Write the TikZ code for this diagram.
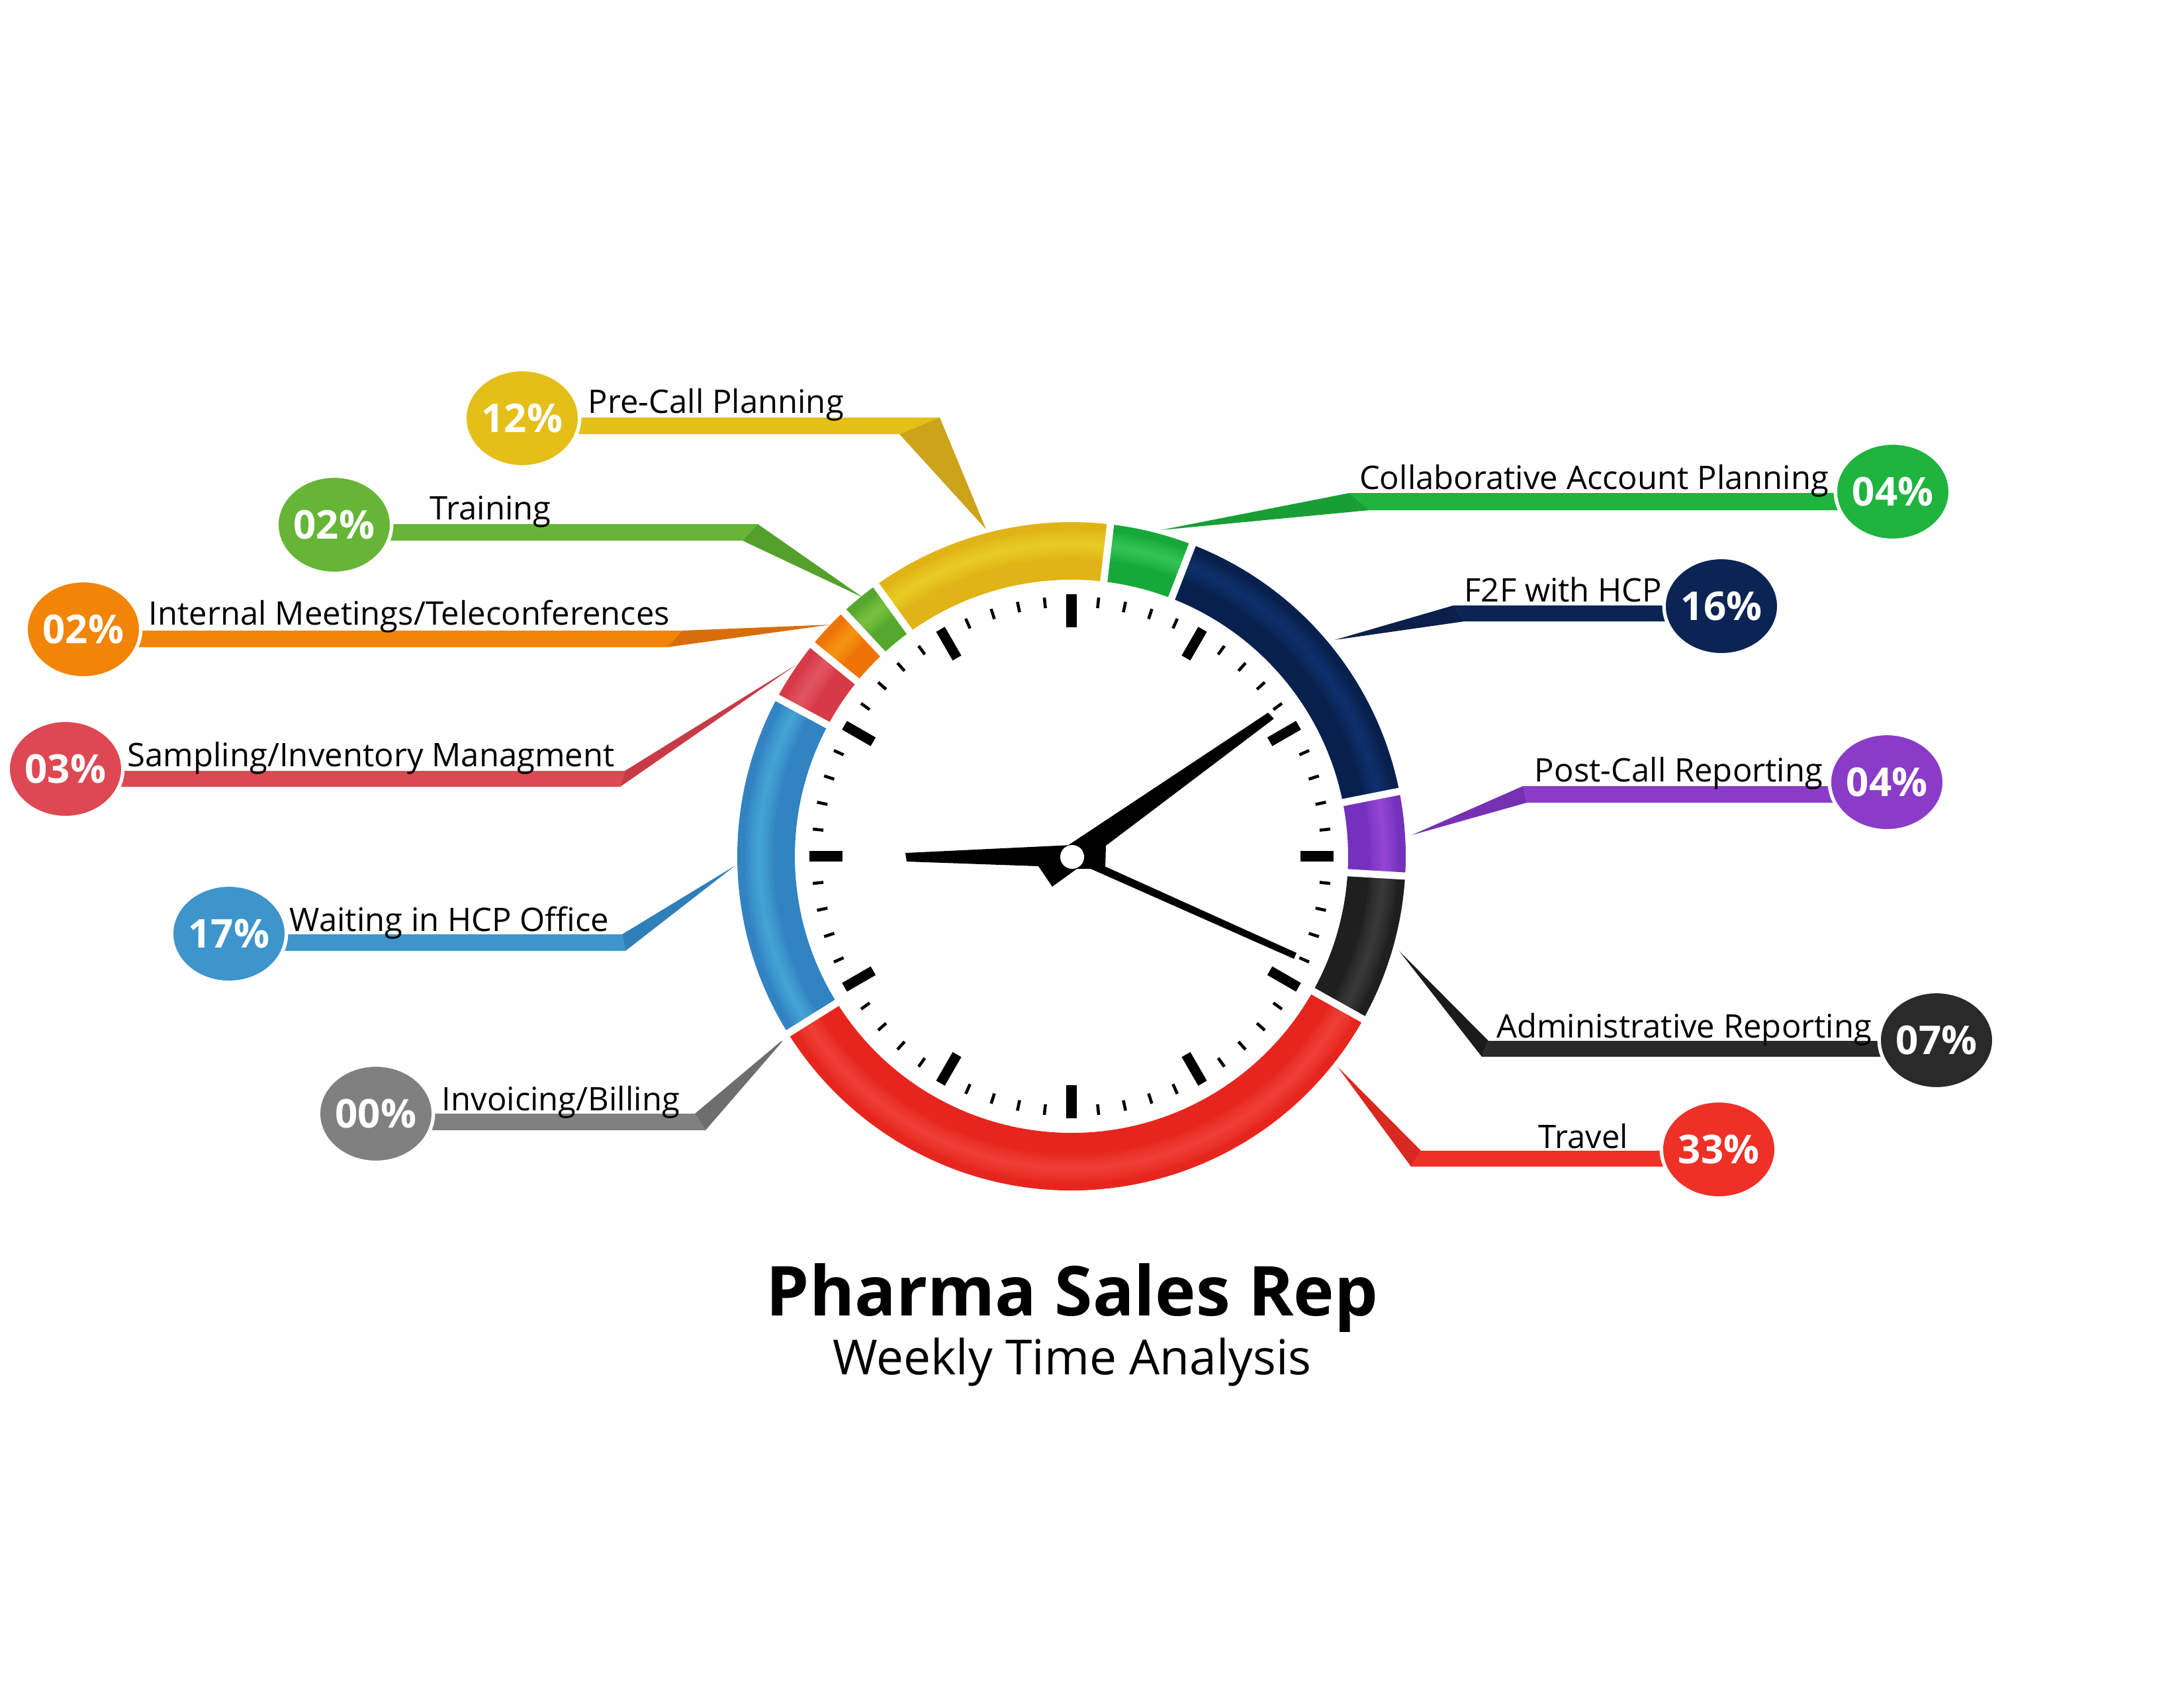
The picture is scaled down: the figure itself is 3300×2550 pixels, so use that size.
\documentclass[tikz,border=0pt]{standalone}
\usepackage{fontspec}
\setmainfont{Open Sans}
\usetikzlibrary{shapes.geometric}
% bar / bubble colours
\definecolor{cPre}{HTML}{E4BF18}\definecolor{cPreW}{HTML}{CCA419}
\definecolor{cTrn}{HTML}{66B537}\definecolor{cTrnW}{HTML}{55A02D}
\definecolor{cInt}{HTML}{F28407}\definecolor{cIntW}{HTML}{D76E0B}
\definecolor{cSmp}{HTML}{DE4852}\definecolor{cSmpW}{HTML}{C83B46}
\definecolor{cWai}{HTML}{3E95CB}\definecolor{cWaiW}{HTML}{2F80B9}
\definecolor{cInv}{HTML}{808080}\definecolor{cInvW}{HTML}{6E6E6E}
\definecolor{cCol}{HTML}{1EB43E}\definecolor{cColW}{HTML}{199E36}
\definecolor{cF2F}{HTML}{0B2454}\definecolor{cF2FW}{HTML}{0A1F49}
\definecolor{cPst}{HTML}{8A3CC8}\definecolor{cPstW}{HTML}{7631B3}
\definecolor{cAdm}{HTML}{2A2A2A}\definecolor{cAdmW}{HTML}{1B1B1B}
\definecolor{cTrv}{HTML}{EE3027}\definecolor{cTrvW}{HTML}{D92820}
% ring colours
\definecolor{rCol}{HTML}{17A83A}\definecolor{lCol}{HTML}{40D062}
\definecolor{rF2F}{HTML}{08204D}\definecolor{lF2F}{HTML}{14397A}
\definecolor{rPst}{HTML}{7331BE}\definecolor{lPst}{HTML}{A252DC}
\definecolor{rAdm}{HTML}{1F1F1F}\definecolor{lAdm}{HTML}{464646}
\definecolor{rTrv}{HTML}{E6261E}\definecolor{lTrv}{HTML}{F54B40}
\definecolor{rWai}{HTML}{3283C2}\definecolor{lWai}{HTML}{4DB3DE}
\definecolor{rSmp}{HTML}{D63A47}\definecolor{lSmp}{HTML}{E8626E}
\definecolor{rInt}{HTML}{EF7407}\definecolor{lInt}{HTML}{FBA414}
\definecolor{rTrn}{HTML}{55A72D}\definecolor{lTrn}{HTML}{88CD46}
\definecolor{rPre}{HTML}{E0B416}\definecolor{lPre}{HTML}{EED62C}
\newcommand\lblfont{\fontsize{13.94pt}{16pt}\selectfont}
\newcommand\pctfont{\bfseries\fontsize{17.07pt}{20pt}\selectfont}
% ribbon: #1 bar colour, #2 wedge colour, #3 x at bubble, #4 y top, #5 y bottom, #6 x corner top, #7 x corner bottom, #8 tip
\newcommand\ribbonshape[8]{%
  \fill[#1] (#3,#4) -- (#6,#4) -- (#7,#5) -- (#3,#5) -- cycle;
  \fill[#2] (#6,#4) -- (#8) -- (#7,#5) -- cycle;}
% ring segment: #1 start angle, #2 end angle, #3 base, #4 light
\newcommand\ringseg[4]{%
  \fill[#3] (#1:505) arc[start angle=#1,end angle=#2,radius=505] -- (#2:418) arc[start angle=#2,end angle=#1,radius=418] -- cycle;
  \foreach \w in {12,10,8,6,4,2.5,1.2}
    \draw[#4,line width=\w pt,opacity=0.16] (#1:472) arc[start angle=#1,end angle=#2,radius=472];}
\begin{document}
\begin{tikzpicture}[x=0.01cm,y=-0.01cm,
  bubble/.style={ellipse,minimum width=1.6cm,minimum height=1.47cm,inner sep=0pt,draw=white,line width=1.5pt,text=white,font=\pctfont},
  lbl/.style={inner sep=0pt,font=\lblfont,text=black},
  minortick/.style={line width=1.3pt,black},
  majortick/.style={line width=4.3pt,black},
  gapline/.style={white,line width=3.1pt}]
\useasboundingbox (0,0) rectangle (3300,2550);
\fill[white] (0,0) rectangle (3300,2550);

% ribbon tips (on the ring)
\coordinate (tPre) at (1490,800);
\coordinate (tTrn) at (1304,903);
\coordinate (tInt) at (1255,944);
\coordinate (tSmp) at (1204,1004);
\coordinate (tWai) at (1111,1308);
\coordinate (tInv) at (1189,1566);
\coordinate (tCol) at (1754,801);
\coordinate (tF2F) at (2017,967);
\coordinate (tPst) at (2133,1262);
\coordinate (tAdm) at (2114,1437);
\coordinate (tTrv) at (2021,1612);

% ribbons
\ribbonshape{cPre}{cPreW}{789}{631}{656}{1420}{1359}{tPre}
\ribbonshape{cTrn}{cTrnW}{505}{792}{817}{1145}{1122}{tTrn}
\ribbonshape{cInt}{cIntW}{126}{953}{978}{1031}{1008}{tInt}
\ribbonshape{cSmp}{cSmpW}{99}{1165}{1189}{944}{937}{tSmp}
\ribbonshape{cWai}{cWaiW}{346}{1412}{1437}{940}{945}{tWai}
\ribbonshape{cInv}{cInvW}{568}{1683}{1708}{1050}{1066}{tInv}
\ribbonshape{cCol}{cColW}{2860}{745}{771}{2039}{2069}{tCol}
\ribbonshape{cF2F}{cF2FW}{2601}{915}{939}{2196}{2213}{tF2F}
\ribbonshape{cPst}{cPstW}{2851}{1188}{1213}{2301}{2307}{tPst}
\ribbonshape{cAdm}{cAdmW}{2926}{1573}{1597}{2249}{2239}{tAdm}
\ribbonshape{cTrv}{cTrvW}{2597}{1739}{1763}{2147}{2132}{tTrv}

% bubbles
\node[bubble,fill=cPre] (bPre) at (789,632) {12\%};
\node[bubble,fill=cTrn] (bTrn) at (505,793) {02\%};
\node[bubble,fill=cInt] (bInt) at (126,951) {02\%};
\node[bubble,fill=cSmp] (bSmp) at (99,1162) {03\%};
\node[bubble,fill=cWai] (bWai) at (346,1411) {17\%};
\node[bubble,fill=cInv] (bInv) at (568,1683) {00\%};
\node[bubble,fill=cCol] (bCol) at (2860,743) {04\%};
\node[bubble,fill=cF2F] (bF2F) at (2601,916) {16\%};
\node[bubble,fill=cPst] (bPst) at (2851,1182) {04\%};
\node[bubble,fill=cAdm] (bAdm) at (2926,1572) {07\%};
\node[bubble,fill=cTrv] (bTrv) at (2597,1737) {33\%};

% labels
\node[lbl,anchor=base west] (lPre) at (888,624) {Pre-Call Planning};
\node[lbl,anchor=base west] (lTrn) at (649,785) {Training};
\node[lbl,anchor=base west] (lInt) at (224,944) {Internal Meetings/Teleconferences};
\node[lbl,anchor=base west] (lSmp) at (192,1158) {Sampling/Inventory Managment};
\node[lbl,anchor=base west] (lWai) at (437,1407) {Waiting in HCP Office};
\node[lbl,anchor=base west] (lInv) at (667,1678) {Invoicing/Billing};
\node[lbl,anchor=base east] (lCol) at (2764,739) {Collaborative Account Planning};
\node[lbl,anchor=base east] (lF2F) at (2512,909) {F2F with HCP};
\node[lbl,anchor=base east] (lPst) at (2755,1181) {Post-Call Reporting};
\node[lbl,anchor=base east] (lAdm) at (2829,1568) {Administrative Reporting};
\node[lbl,anchor=base east] (lTrv) at (2461,1735) {Travel};

% clock ring
\begin{scope}[shift={(1619,1294)}]
  \ringseg{-83.3}{-68.8}{rCol}{lCol}
  \ringseg{-68.8}{-11.2}{rF2F}{lF2F}
  \ringseg{-11.2}{3.4}{rPst}{lPst}
  \ringseg{3.4}{29.2}{rAdm}{lAdm}
  \ringseg{29.2}{148.0}{rTrv}{lTrv}
  \ringseg{148.0}{208.3}{rWai}{lWai}
  \ringseg{208.3}{219.2}{rSmp}{lSmp}
  \ringseg{219.2}{227.0}{rInt}{lInt}
  \ringseg{227.0}{234.2}{rTrn}{lTrn}
  \ringseg{234.2}{276.7}{rPre}{lPre}
  \foreach \b in {-83.3,-68.8,-11.2,3.4,29.2,148.0,208.3,219.2,227.0,234.2}
    \draw[gapline] (\b:405) -- (\b:520);
  % ticks
  \foreach \i in {0,...,59}{
    \pgfmathtruncatemacro\m{mod(\i,5)}
    \ifnum\m=0
      \draw[majortick] (\i*6:346) -- (\i*6:396);
    \else
      \draw[minortick] (\i*6:377) -- (\i*6:393);
    \fi}
\end{scope}

% hands
\fill[black] (1368,1289) -- (1620,1277) -- (1627,1313) -- (1590,1340) -- (1569,1309) -- (1370,1302) -- cycle;
\fill[black] (1610,1280) -- (1916,1077) -- (1925,1086) -- (1671,1278) -- (1670,1313) -- (1627,1313) -- cycle;
\fill[black] (1671,1310) -- (1959,1440) -- (1955,1449) -- (1648,1313) -- cycle;
\node[circle,fill=white,minimum size=0.36cm,inner sep=0pt] (hub) at (1620,1295) {};

% title
\node[anchor=base,inner sep=0pt,font=\bfseries\fontsize{29.6pt}{34pt}\selectfont] (title) at (1620,1988) {Pharma Sales Rep};
\node[anchor=base,inner sep=0pt,font=\fontsize{20.8pt}{24pt}\selectfont] (subtitle) at (1620,2077) {Weekly Time Analysis};
\end{tikzpicture}
\end{document}
